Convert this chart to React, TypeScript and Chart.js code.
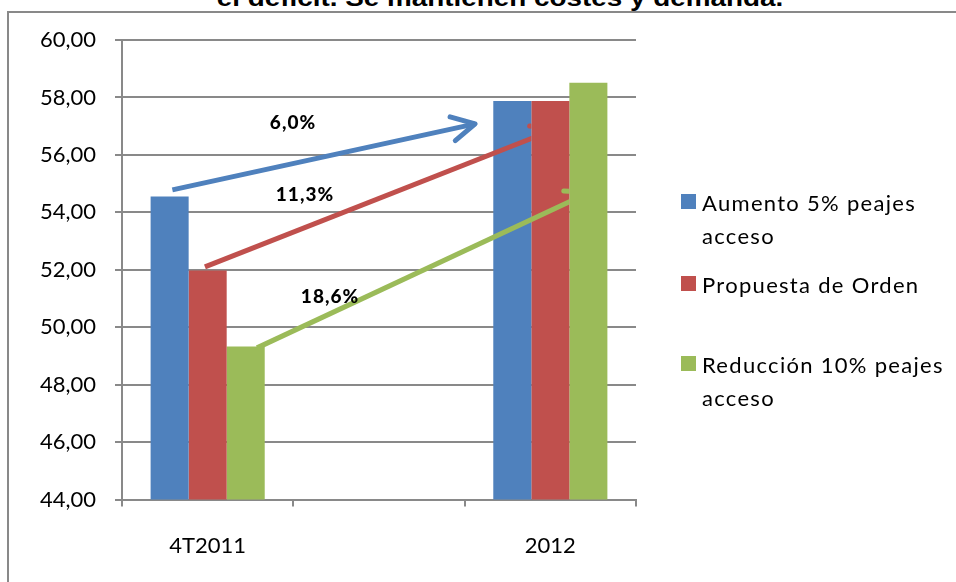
import React, { useEffect, useRef } from "react";
import { Chart, registerables } from "chart.js";

Chart.register(...registerables);

// ---------- data ----------
const categories = ["4T2011", "", "2012"];
const seriesNames = [
  "Aumento 5% peajes acceso",
  "Propuesta de Orden",
  "Reducción 10% peajes acceso",
];
const legendLines = [
  ["Aumento 5% peajes", "acceso"],
  ["Propuesta de Orden"],
  ["Reducción 10% peajes", "acceso"],
];
const aumento = [54.55, null, 57.88];
const propuesta = [51.97, null, 57.88];
const reduccion = [49.33, null, 58.51];
const seriesColors = ["#4F81BD", "#C0504D", "#9BBB59"];
const yMin = 44;
const yMax = 60;
const yStep = 2;
const growthLabels = ["6,0%", "11,3%", "18,6%"];
// arrows in data units: [category index (fractional), value]
const arrowStart = [
  [-0.206, 54.78],
  [-0.016, 52.1],
  [0.288, 49.28],
];
const arrowEnd = [
  [1.561, 57.08],
  [2.03, 56.9],
  [2.23, 54.7],
];
const labelAnchor = [
  [0.498, 57.11],
  [0.568, 54.6],
  [0.714, 51.05],
];
const titleText = "el déficit. Se mantienen costes y demanda.";

const FONT = "Lato, 'Open Sans', sans-serif";
const GRID = "#898989";

const arrowPlugin = {
  id: "growthArrows",
  afterDatasetsDraw(chart: any) {
    const { ctx } = chart;
    const xs = chart.scales.x;
    const ys = chart.scales.y;
    const n = chart.data.datasets.length;
    for (let i = 0; i < n; i++) {
      const x1 = xs.getPixelForValue(arrowStart[i][0]);
      const y1 = ys.getPixelForValue(arrowStart[i][1]);
      const x2 = xs.getPixelForValue(arrowEnd[i][0]);
      const y2 = ys.getPixelForValue(arrowEnd[i][1]);
      ctx.save();
      ctx.beginPath();
      ctx.rect(0, 0, chart.width, chart.height);
      for (let j = i; j < n; j++) {
        const el = chart.getDatasetMeta(j).data[2];
        if (!el) continue;
        const p = el.getProps(["x", "y", "base", "width"], true);
        ctx.rect(p.x - p.width / 2, p.y, p.width, p.base - p.y);
      }
      ctx.clip("evenodd");
      ctx.strokeStyle = seriesColors[i];
      ctx.lineWidth = 5;
      ctx.lineCap = "butt";
      ctx.beginPath();
      ctx.moveTo(x1, y1);
      ctx.lineTo(x2, y2);
      ctx.stroke();
      const ang = Math.atan2(y2 - y1, x2 - x1);
      const len = 26;
      const spread = (28 * Math.PI) / 180;
      ctx.lineCap = "round";
      ctx.lineJoin = "round";
      ctx.beginPath();
      ctx.moveTo(
        x2 + len * Math.cos(ang + Math.PI - spread),
        y2 + len * Math.sin(ang + Math.PI - spread)
      );
      ctx.lineTo(x2, y2);
      ctx.lineTo(
        x2 + len * Math.cos(ang + Math.PI + spread),
        y2 + len * Math.sin(ang + Math.PI + spread)
      );
      ctx.stroke();
      ctx.restore();
    }
    ctx.save();
    ctx.fillStyle = "#000";
    ctx.font = `900 19px ${FONT}`;
    (ctx as any).letterSpacing = "1px";
    ctx.textAlign = "center";
    ctx.textBaseline = "middle";
    for (let i = 0; i < growthLabels.length; i++) {
      ctx.fillText(
        growthLabels[i],
        xs.getPixelForValue(labelAnchor[i][0]),
        ys.getPixelForValue(labelAnchor[i][1])
      );
    }
    ctx.restore();
  },
};

export default function App() {
  const canvasRef = useRef<HTMLCanvasElement | null>(null);

  useEffect(() => {
    if (!canvasRef.current) return;
    const seriesData = [aumento, propuesta, reduccion];
    const chart = new Chart(canvasRef.current, {
      type: "bar",
      data: {
        labels: categories,
        datasets: seriesData.map((d, i) => ({
          label: seriesNames[i],
          data: d,
          backgroundColor: seriesColors[i],
          borderWidth: 0,
          categoryPercentage: 0.666,
          barPercentage: 1.0,
        })),
      },
      options: {
        responsive: false,
        animation: false,
        layout: { padding: { left: 0, right: 320, top: 40, bottom: 0 } },
        plugins: {
          legend: { display: false },
          tooltip: { enabled: false },
          title: { display: false },
        },
        scales: {
          x: {
            type: "category",
            offset: true,
            grid: {
              offset: true,
              drawOnChartArea: false,
              drawTicks: true,
              tickLength: 7,
              color: GRID,
              lineWidth: 2,
            },
            border: { color: GRID, width: 2 },
            ticks: {
              color: "#000",
              font: { family: FONT, size: 22 },
              padding: 26,
              maxRotation: 0,
              autoSkip: false,
            },
            afterFit(s: any) {
              s.height = 82.5;
            },
          },
          y: {
            min: yMin,
            max: yMax,
            grid: {
              color: GRID,
              lineWidth: 2,
              drawTicks: true,
              tickLength: 7,
            },
            border: { color: GRID, width: 2 },
            ticks: {
              stepSize: yStep,
              color: "#000",
              font: { family: FONT, size: 22 },
              padding: 19,
              callback: (v: any) => Number(v).toFixed(2).replace(".", ","),
            },
            afterFit(s: any) {
              s.width = 122;
            },
          },
        },
      },
      plugins: [arrowPlugin],
    } as any);
    return () => chart.destroy();
  }, []);

  const legendTops = [186, 268, 348];

  return (
    <div
      style={{
        position: "fixed",
        left: 0,
        top: 0,
        width: 956,
        height: 582,
        overflow: "hidden",
        background: "#fff",
      }}
    >
      <div
        style={{
          position: "absolute",
          left: 7,
          top: 11,
          width: 2000,
          height: 2000,
          border: `2px solid ${GRID}`,
          boxSizing: "border-box",
        }}
      />
      <div
        style={{
          position: "absolute",
          left: 0,
          top: -14,
          width: 1000,
          textAlign: "center",
          font: "bold 24px 'Liberation Sans', Arial, sans-serif",
          lineHeight: "24px",
          transform: "scaleX(1.16)",
          color: "#000",
          whiteSpace: "nowrap",
        }}
      >
        {titleText}
      </div>
      <canvas
        ref={canvasRef}
        width={956}
        height={582}
        style={{ position: "absolute", left: 0, top: 0, width: 956, height: 582 }}
      />
      {legendLines.map((lines, i) => (
        <div
          key={i}
          style={{ position: "absolute", left: 681, top: legendTops[i] }}
        >
          <div
            style={{
              position: "absolute",
              left: 0,
              top: 8,
              width: 15,
              height: 15,
              background: seriesColors[i],
            }}
          />
          <div
            style={{
              position: "absolute",
              left: 21,
              top: 0,
              whiteSpace: "nowrap",
              fontFamily: FONT,
              fontSize: 22,
              lineHeight: "33px",
              letterSpacing: "1.3px",
              color: "#000",
            }}
          >
            {lines.map((l, k) => (
              <div key={k}>{l}</div>
            ))}
          </div>
        </div>
      ))}
    </div>
  );
}
